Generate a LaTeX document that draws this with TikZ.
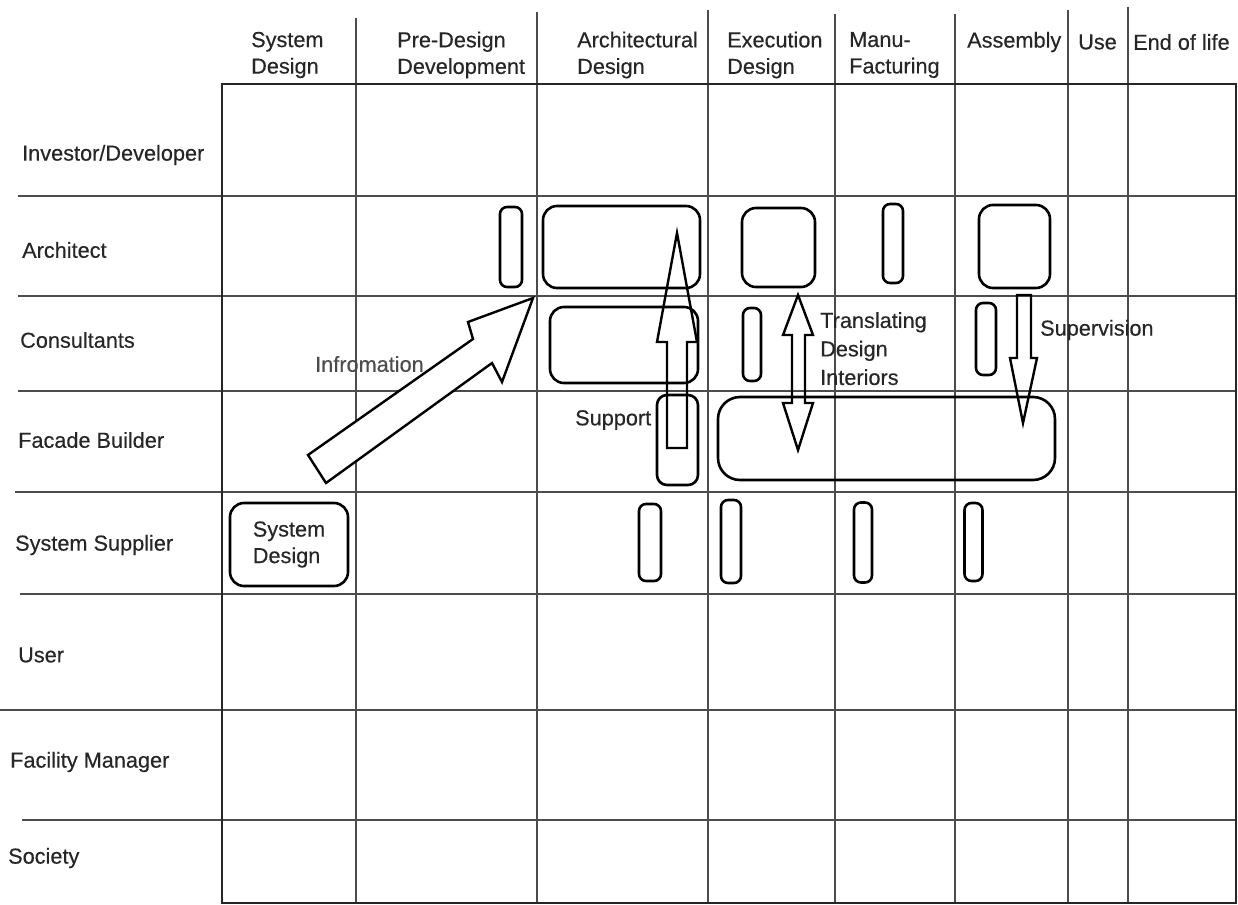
\documentclass[tikz,border=0pt]{standalone}
\usepackage{fontspec}
\setmainfont{Liberation Sans}[FakeBold=0.35]
\begin{document}
\begin{tikzpicture}[x=1pt,y=-1pt,
  gridline/.style={line width=1.3pt, black!70},
  frame/.style={line width=2.8pt, black!85},
  lbl/.style={inner sep=0pt, anchor=west, align=left, text=black!85,
              font=\fontsize{21.7}{26.5}\selectfont},
  rbox/.style={draw, line width=2.6pt, rounded corners=14pt, inner sep=0pt},
  slim/.style={draw, line width=2.6pt, rounded corners=7pt, inner sep=0pt},
  barrow/.style={draw, line width=2.4pt, line join=miter},
]
\useasboundingbox (0,0) rectangle (1238,904);

% vertical grid lines
\foreach \x/\t in {356/18, 537/12, 708/10, 835/14, 955/14, 1068/10, 1128/7}
  \draw[gridline] (\x,\t) -- (\x,903);
% horizontal grid lines
\foreach \y/\l in {196/18, 296/18, 391/18, 492/15, 594/20, 710/0, 820/22}
  \draw[gridline] (\l,\y) -- (1236,\y);
% table frame
\draw[frame] (222,84) -- (1236,84) -- (1236,903) -- (222,903) -- cycle;

% column headers
\node[lbl] (hSD)  at (251,55) {System\\Design};
\node[lbl] (hPD)  at (397,55) {Pre-Design\\Development};
\node[lbl] (hAD)  at (577,55) {Architectural\\Design};
\node[lbl] (hED)  at (727,55) {Execution\\Design};
\node[lbl] (hMF)  at (849,55) {Manu-\\Facturing};
\node[lbl] (hAS)  at (967,42) {Assembly};
\node[lbl] (hUse) at (1078,42) {Use};
\node[lbl] (hEoL) at (1133,42) {End of life};

% row labels
\node[lbl] (rInv) at (22,155) {Investor/Developer};
\node[lbl] (rArc) at (22,250) {Architect};
\node[lbl] (rCon) at (20,340) {Consultants};
\node[lbl] (rFac) at (18,440) {Facade Builder};
\node[lbl] (rSup) at (15,545) {System Supplier};
\node[lbl] (rUse) at (18,655) {User};
\node[lbl] (rFM)  at (10,762) {Facility Manager};
\node[lbl] (rSoc) at (8,858)  {Society};

% Architect row boxes
\node[slim, minimum width=22pt, minimum height=80pt] (a1) at (511,247) {};
\node[rbox, minimum width=157pt, minimum height=82pt] (a2) at (621.5,247) {};
\node[rbox, minimum width=73pt, minimum height=79pt] (a3) at (778.5,247.5) {};
\node[slim, minimum width=20pt, minimum height=79pt] (a4) at (893,243.5) {};
\node[rbox, minimum width=71pt, minimum height=83pt] (a5) at (1014.5,246.5) {};

% Consultants row boxes
\node[rbox, minimum width=148pt, minimum height=76pt] (c1) at (624,345) {};
\node[slim, minimum width=18pt, minimum height=73pt] (c2) at (752,344.5) {};
\node[slim, minimum width=20pt, minimum height=72pt] (c3) at (986,339) {};

% Facade builder row boxes
\node[slim, rounded corners=10pt, minimum width=41pt, minimum height=90pt] (f1) at (677.5,440) {};
\node[rbox, rounded corners=22pt, minimum width=337pt, minimum height=83pt] (f2) at (886.5,438.5) {};

% System supplier row boxes
\node[lbl, anchor=center, draw, line width=2.6pt, rounded corners=14pt,
      minimum width=118pt, minimum height=83pt] (s0) at (289,544.5) {System\\Design};
\node[slim, minimum width=22pt, minimum height=77pt] (s1) at (650,542.5) {};
\node[slim, minimum width=20pt, minimum height=83pt] (s2) at (731,541.5) {};
\node[slim, minimum width=18pt, minimum height=80pt] (s3) at (863,542.5) {};
\node[slim, minimum width=18pt, minimum height=78pt] (s4) at (973.5,542) {};

% Information arrow
\draw[barrow, fill=white] (308,455) -- (473,339) -- (468,322) -- (533,298)
  -- (502,382) -- (492,363) -- (326,483) -- cycle;
\node[lbl, text=black!70] (tInfo) at (315,364) {Infromation};

% Support arrow
\draw[barrow] (667,448) -- (667,342) -- (657,342) -- (677,233) -- (697,342)
  -- (687,342) -- (687,448) -- cycle;
\node[lbl] (tSup) at (575,420) {Support};

% Translating double arrow
\draw[barrow] (798,295) -- (813,335) -- (805,335) -- (805,403) -- (813,403)
  -- (798,450) -- (783,403) -- (792,403) -- (792,335) -- (783,335) -- cycle;
\node[lbl, anchor=north west, font=\fontsize{21.7}{28.5}\selectfont] (tTr) at (820,312) {Translating\\Design\\Interiors};

% Supervision arrow
\draw[barrow] (1017,295) -- (1031,295) -- (1031,358) -- (1037,358) -- (1023,423)
  -- (1010,358) -- (1017,358) -- cycle;
\node[lbl] (tSv) at (1040,330) {Supervision};
\end{tikzpicture}
\end{document}
